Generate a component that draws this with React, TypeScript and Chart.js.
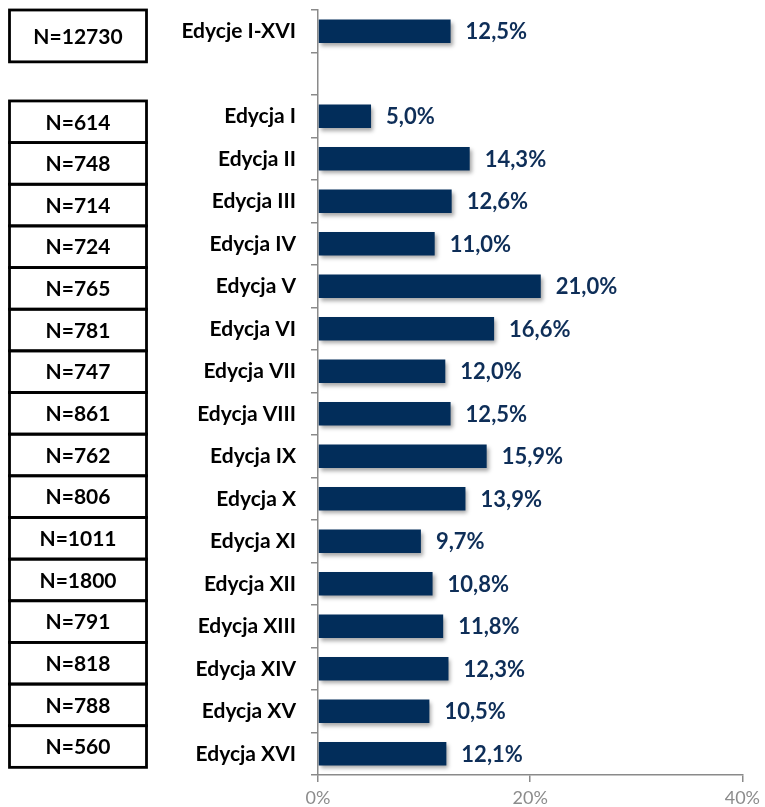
import React, { useEffect, useRef } from 'react';
import { Chart, registerables } from 'chart.js';

Chart.register(...registerables);

const categories = [
  'Edycje I-XVI', '', 'Edycja I', 'Edycja II', 'Edycja III', 'Edycja IV', 'Edycja V', 'Edycja VI',
  'Edycja VII', 'Edycja VIII', 'Edycja IX', 'Edycja X', 'Edycja XI', 'Edycja XII', 'Edycja XIII',
  'Edycja XIV', 'Edycja XV', 'Edycja XVI',
];
const values: (number | null)[] = [
  12.5, null, 5.0, 14.3, 12.6, 11.0, 21.0, 16.6, 12.0, 12.5, 15.9, 13.9, 9.7, 10.8, 11.8, 12.3, 10.5, 12.1,
];
const sampleSizes: (number | null)[] = [
  12730, null, 614, 748, 714, 724, 765, 781, 747, 861, 762, 806, 1011, 1800, 791, 818, 788, 560,
];
const xTickValues = [0, 20, 40];

const FONT = 'Lato, "Noto Sans", sans-serif';
const BAR_COLOR = '#022D5A';
const LABEL_COLOR = '#0E2E58';
const AXIS_COLOR = '#8A8A8A';

const shadowPlugin = {
  id: 'barShadow',
  beforeDatasetDraw(chart: any) {
    const ctx = chart.ctx;
    ctx.save();
    ctx.shadowColor = 'rgba(0,0,0,0.35)';
    ctx.shadowBlur = 4;
    ctx.shadowOffsetX = 2;
    ctx.shadowOffsetY = 3;
  },
  afterDatasetDraw(chart: any) {
    chart.ctx.restore();
  },
};

const valueLabelPlugin = {
  id: 'valueLabels',
  afterDatasetsDraw(chart: any) {
    const ctx = chart.ctx;
    const meta = chart.getDatasetMeta(0);
    ctx.save();
    ctx.font = `bold 22px ${FONT}`;
    ctx.fillStyle = LABEL_COLOR;
    ctx.textAlign = 'left';
    ctx.textBaseline = 'middle';
    meta.data.forEach((bar: any, i: number) => {
      const v = values[i];
      if (v == null) return;
      ctx.fillText(v.toFixed(1).replace('.', ',') + '%', bar.x + 15, bar.y + 1);
    });
    ctx.restore();
  },
};

const boxPlugin = {
  id: 'sampleBoxes',
  afterDraw(chart: any) {
    const ctx = chart.ctx;
    const y = chart.scales.y;
    const step = y.getPixelForValue(1) - y.getPixelForValue(0);
    const left = 9.5;
    const width = 137;
    ctx.save();
    ctx.lineWidth = 2.8;
    ctx.strokeStyle = '#000';
    ctx.fillStyle = '#000';
    ctx.font = `bold 21px ${FONT}`;
    ctx.textAlign = 'center';
    ctx.textBaseline = 'middle';
    const groupTop = y.getPixelForValue(2) - 0.36 * step;
    const h = 0.98 * step;
    sampleSizes.forEach((n, i) => {
      if (n == null) return;
      let top: number;
      let bh: number;
      if (i === 0) {
        top = y.getPixelForValue(0) - 0.5 * step;
        bh = 1.22 * step;
      } else {
        top = groupTop + (i - 2) * h;
        bh = h;
      }
      ctx.strokeRect(left, top, width, bh);
      ctx.fillText('N=' + n, left + width / 2, top + bh / 2 + 1);
    });
    ctx.restore();
  },
};

export default function App() {
  const ref = useRef<HTMLCanvasElement | null>(null);

  useEffect(() => {
    if (!ref.current) return;
    const chart = new Chart(ref.current, {
      type: 'bar',
      data: {
        labels: categories,
        datasets: [
          {
            data: values as any,
            backgroundColor: BAR_COLOR,
            borderWidth: 0,
            categoryPercentage: 1,
            barPercentage: 0.55,
          },
        ],
      },
      options: {
        indexAxis: 'y',
        responsive: false,
        animation: false,
        layout: { padding: { top: 10, right: 20, left: 0, bottom: 0 } },
        plugins: {
          legend: { display: false },
          tooltip: { enabled: false },
        },
        scales: {
          y: {
            type: 'category',
            afterFit: (scale: any) => {
              scale.width = 318;
              scale.paddingTop = 0;
              scale.paddingBottom = 0;
            },
            grid: {
              display: true,
              drawOnChartArea: false,
              drawTicks: true,
              tickLength: 7,
              color: AXIS_COLOR,
              lineWidth: 1.5,
              offset: true,
            },
            border: { display: true, color: AXIS_COLOR, width: 1.5 },
            ticks: {
              autoSkip: false,
              color: '#000',
              padding: 15,
              font: { family: FONT, size: 21, weight: 'bold' },
            },
          },
          x: {
            type: 'linear',
            min: 0,
            max: 40,
            afterFit: (scale: any) => {
              scale.height = 32;
            },
            afterBuildTicks: (scale: any) => {
              scale.ticks = xTickValues.map((v) => ({ value: v }));
            },
            grid: {
              display: true,
              drawOnChartArea: false,
              drawTicks: true,
              tickLength: 7,
              color: AXIS_COLOR,
              lineWidth: 1.5,
            },
            border: { display: true, color: AXIS_COLOR, width: 1.5 },
            ticks: {
              color: '#8C8C8C',
              padding: 5,
              font: { family: FONT, size: 18 },
              callback: (v: any) => v + '%',
            },
          },
        },
      },
      plugins: [shadowPlugin, valueLabelPlugin, boxPlugin],
    });
    return () => chart.destroy();
  }, []);

  return (
    <div style={{ position: 'absolute', left: 0, top: 0, width: 765, height: 807, background: '#fff' }}>
      <canvas ref={ref} width={765} height={807} />
    </div>
  );
}
